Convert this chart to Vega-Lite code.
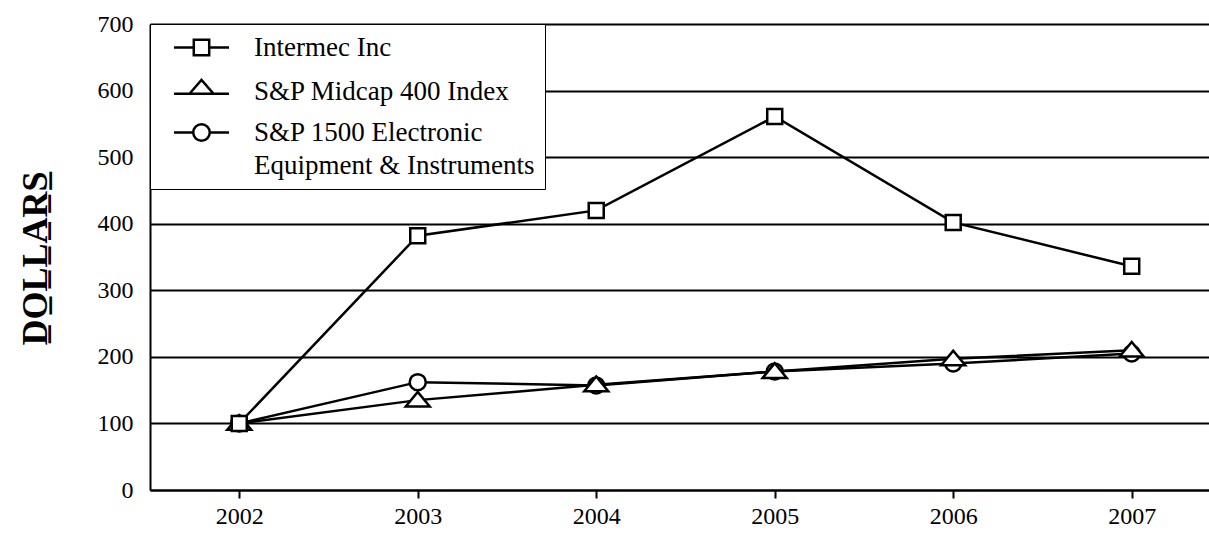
{
  "$schema": "https://vega.github.io/schema/vega-lite/v6.json",
  "width": 1059,
  "height": 466,
  "autosize": {"type": "none"},
  "padding": {"left": 150, "top": 24, "right": 0, "bottom": 44},
  "background": "white",
  "data": {
    "values": [
      {"year": 2002, "value": 100, "series": "S&P 1500 Electronic Equipment & Instruments"},
      {"year": 2003, "value": 162, "series": "S&P 1500 Electronic Equipment & Instruments"},
      {"year": 2004, "value": 157, "series": "S&P 1500 Electronic Equipment & Instruments"},
      {"year": 2005, "value": 178, "series": "S&P 1500 Electronic Equipment & Instruments"},
      {"year": 2006, "value": 190, "series": "S&P 1500 Electronic Equipment & Instruments"},
      {"year": 2007, "value": 205, "series": "S&P 1500 Electronic Equipment & Instruments"},
      {"year": 2002, "value": 100, "series": "S&P Midcap 400 Index"},
      {"year": 2003, "value": 135, "series": "S&P Midcap 400 Index"},
      {"year": 2004, "value": 158, "series": "S&P Midcap 400 Index"},
      {"year": 2005, "value": 178, "series": "S&P Midcap 400 Index"},
      {"year": 2006, "value": 197, "series": "S&P Midcap 400 Index"},
      {"year": 2007, "value": 210, "series": "S&P Midcap 400 Index"},
      {"year": 2002, "value": 100, "series": "Intermec Inc"},
      {"year": 2003, "value": 382, "series": "Intermec Inc"},
      {"year": 2004, "value": 420, "series": "Intermec Inc"},
      {"year": 2005, "value": 561, "series": "Intermec Inc"},
      {"year": 2006, "value": 402, "series": "Intermec Inc"},
      {"year": 2007, "value": 336, "series": "Intermec Inc"}
    ]
  },
  "encoding": {
    "x": {
      "field": "year", "type": "quantitative",
      "scale": {"domain": [2001.5, 2007.433], "nice": false, "zero": false},
      "axis": {
        "title": null, "values": [2002, 2003, 2004, 2005, 2006, 2007], "format": "d",
        "grid": false, "domainColor": "black", "domainWidth": 2,
        "tickColor": "black", "tickWidth": 2, "tickSize": 8,
        "labelFont": "Liberation Serif", "labelFontSize": 24, "labelColor": "black",
        "labelPadding": 6, "labelFlush": false
      }
    },
    "y": {
      "field": "value", "type": "quantitative",
      "scale": {"domain": [0, 700], "nice": false},
      "axis": {
        "title": "D̲O̲L̲L̲A̲R̲S̲",
        "titleFont": "Liberation Serif", "titleFontSize": 36, "titleFontWeight": "bold", "titleColor": "black",
        "titleAngle": 270, "titleAlign": "center", "titleBaseline": "middle",
        "titleX": -115, "titleY": 234,
        "values": [0, 100, 200, 300, 400, 500, 600, 700],
        "grid": true, "gridColor": "black", "gridWidth": 2, "gridOpacity": 1,
        "domainColor": "black", "domainWidth": 2, "ticks": false,
        "labelFont": "Liberation Serif", "labelFontSize": 24, "labelColor": "black",
        "labelPadding": 17, "labelFlush": false
      }
    }
  },
  "layer": [
    {
      "mark": {"type": "line", "color": "black", "strokeWidth": 2.5},
      "encoding": {"detail": {"field": "series"}}
    },
    {
      "mark": {"type": "point", "filled": true, "fill": "white", "stroke": "black", "strokeWidth": 2.5, "size": 225, "opacity": 1},
      "encoding": {
        "shape": {
          "field": "series", "type": "nominal",
          "scale": {
            "domain": ["Intermec Inc", "S&P Midcap 400 Index", "S&P 1500 Electronic Equipment & Instruments"],
            "range": ["square", "M-1.6,0.85L0,-1.1L1.6,0.85Z", "M-1.07,0A1.07,1.07 0 1,0 1.07,0A1.07,1.07 0 1,0 -1.07,0Z"]
          },
          "legend": null
        }
      }
    },
    {
      "transform": [{"filter": "datum.year < 0"}],
      "mark": {"type": "point", "filled": false, "color": "black", "strokeWidth": 2.5, "size": 484, "opacity": 1},
      "encoding": {
        "shape": {
          "field": "series", "type": "nominal",
          "scale": {
            "domain": ["Intermec Inc", "S&P Midcap 400 Index", "S&P 1500 Electronic Equipment & Instruments"],
            "range": [
              "M-2.5,0H-0.7M0.7,0H2.5M-0.7,-0.7H0.7V0.7H-0.7Z",
              "M-2.5,0.2H-1.09M1.09,0.2H2.5M-1.09,0.2L0,-1.05L1.09,0.2Z",
              "M-2.5,0H-0.75M0.75,0H2.5M-0.75,0A0.75,0.75 0 1,0 0.75,0A0.75,0.75 0 1,0 -0.75,0Z"
            ]
          },
          "legend": {
            "title": null,
            "orient": "none", "legendX": 0, "legendY": 0,
            "strokeColor": "black", "fillColor": "white",
            "padding": 10, "symbolSize": 484, "symbolOffset": 28, "labelOffset": 39,
            "symbolStrokeWidth": 2.5, "symbolStrokeColor": "black", "symbolOpacity": 1,
            "labelFont": "Liberation Serif", "labelFontSize": 27, "labelColor": "black", "labelLimit": 0,
            "rowPadding": 13,
            "labelExpr": "datum.label == 'S&P 1500 Electronic Equipment & Instruments' ? ['S&P 1500 Electronic', 'Equipment & Instruments\u2002\u2006'] : datum.label"
          }
        }
      }
    }
  ],
  "resolve": {"scale": {"shape": "independent"}, "legend": {"shape": "independent"}},
  "config": {"view": {"stroke": null}, "style": {"guide-label": {"lineHeight": 33}}}
}
